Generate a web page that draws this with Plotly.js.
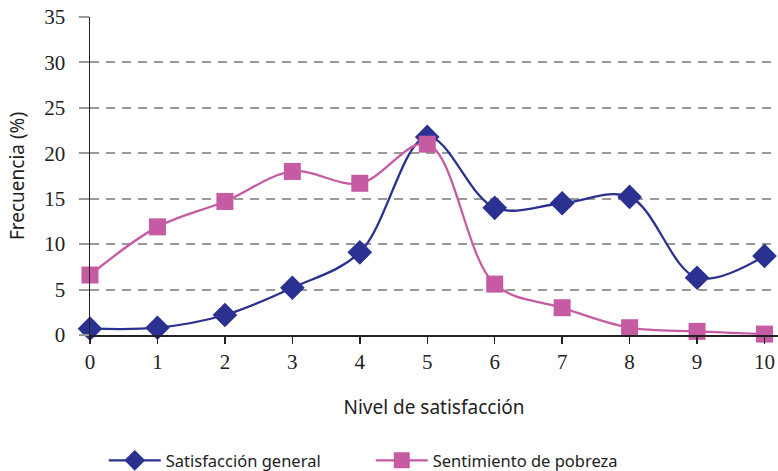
<!DOCTYPE html>
<html>
<head>
<meta charset="utf-8">
<script src="https://cdn.plot.ly/plotly-3.0.1.min.js"></script>
<style>html,body{margin:0;padding:0;background:#fff;}#chart{width:778px;height:471px;}</style>
</head>
<body>
<div id="chart"></div>
<script>
var niveles = [0, 1, 2, 3, 4, 5, 6, 7, 8, 9, 10];
var tickLabels = ['0', '1', '2', '3', '4', '5', '6', '7', '8', '9', '10'];
var satisfaccionGeneral = [0.7, 0.8, 2.2, 5.2, 9.1, 21.8, 14.0, 14.5, 15.2, 6.3, 8.7];
var sentimientoPobreza = [6.6, 11.9, 14.7, 18.0, 16.7, 21.0, 5.6, 3.0, 0.8, 0.4, 0.1];
var yTicks = [0, 5, 10, 15, 20, 25, 30, 35];

var blue = '#2B3190';
var pink = '#C65BA3';

var traces = [
  {
    x: niveles, y: satisfaccionGeneral, name: 'Satisfacción general',
    type: 'scatter', mode: 'lines+markers',
    line: {color: blue, width: 2.3, shape: 'spline', smoothing: 1},
    marker: {symbol: 'diamond', size: 19, color: blue},
    cliponaxis: false
  },
  {
    x: niveles, y: sentimientoPobreza, name: 'Sentimiento de pobreza',
    type: 'scatter', mode: 'lines+markers',
    line: {color: pink, width: 2.3, shape: 'spline', smoothing: 1},
    marker: {symbol: 'square', size: 17, color: pink},
    cliponaxis: false
  }
];

var layout = {
  width: 778, height: 471,
  margin: {l: 90, r: 0, t: 17, b: 136, autoexpand: false},
  paper_bgcolor: '#fff', plot_bgcolor: '#fff',
  showlegend: true,
  legend: {
    orientation: 'h', x: 0.02, xanchor: 'left', y: -0.395, yanchor: 'middle',
    font: {family: 'Noto Sans', size: 16.5, color: '#222'},
    itemwidth: 52,
    entrywidth: 200, entrywidthmode: 'pixels', traceorder: 'normal'
  },
  annotations: [{
    text: 'Frecuencia (%)', xref: 'paper', yref: 'paper',
    x: -0.106, y: 0.5, xanchor: 'center', yanchor: 'middle',
    textangle: -90, showarrow: false,
    font: {family: 'Noto Sans', size: 19, color: '#222'}
  }],
  xaxis: {
    range: [0, 10.2], tickvals: niveles, ticktext: tickLabels,
    showgrid: false, zeroline: false,
    showline: true, linecolor: '#222', linewidth: 1.5,
    ticks: 'outside', ticklen: 7, tickcolor: '#222', tickwidth: 1.5,
    tickfont: {family: 'Liberation Serif', size: 21, color: '#222'},
    title: {text: 'Nivel de satisfacción', standoff: 28, font: {family: 'Noto Sans', size: 19, color: '#222'}}
  },
  yaxis: {
    range: [0, 35], tickvals: yTicks,
    showgrid: true, gridcolor: '#999', gridwidth: 2, griddash: '9px,7px',
    zeroline: false,
    showline: true, linecolor: '#222', linewidth: 1.5,
    ticks: 'outside', ticklen: 10, tickcolor: '#999', tickwidth: 2,
    ticklabelstandoff: 9,
    tickfont: {family: 'Liberation Serif', size: 21, color: '#222'}
  }
};

Plotly.newPlot('chart', traces, layout, {displayModeBar: false, staticPlot: true});
</script>
</body>
</html>
